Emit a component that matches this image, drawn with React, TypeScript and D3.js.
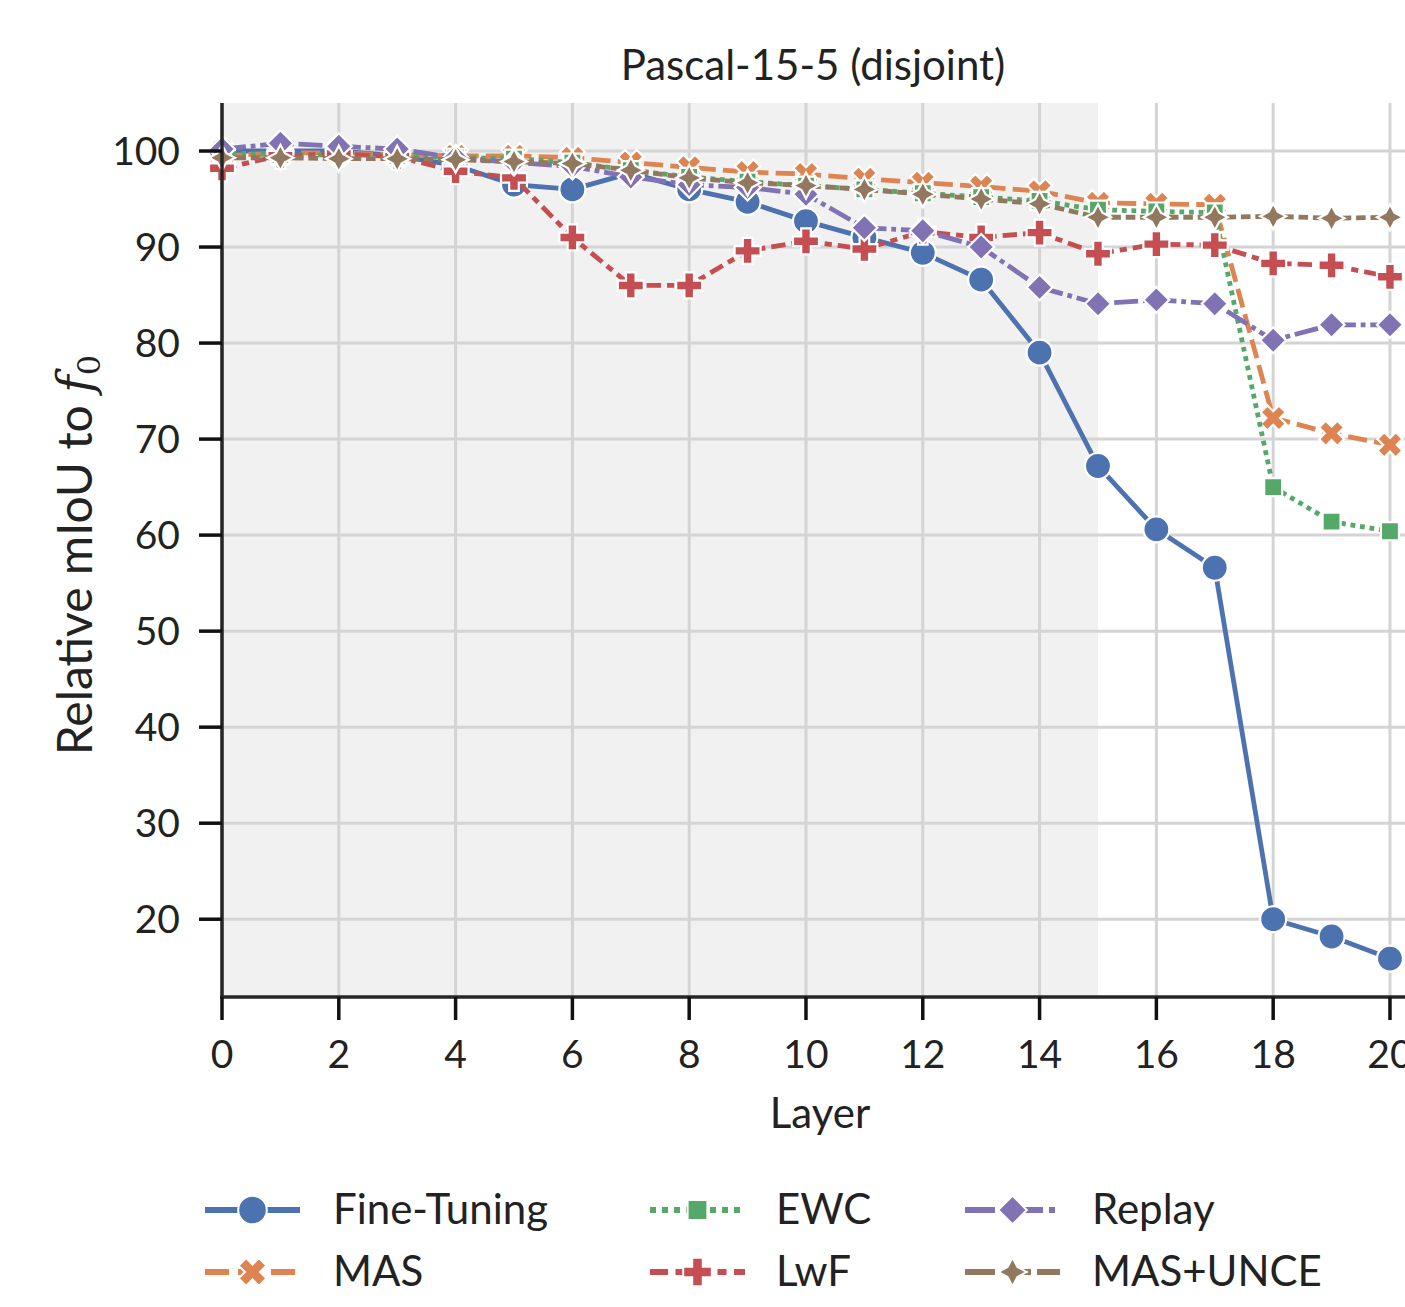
import React from "react";
import * as d3 from "d3";

const layers = d3.range(0, 21);
const xTicks = [0, 2, 4, 6, 8, 10, 12, 14, 16, 18, 20];
const yTicks = [20, 30, 40, 50, 60, 70, 80, 90, 100];

const fineTuning = [100, 100, 100, 99.5, 98.5, 96.5, 96.0, 97.7, 96.0, 94.7, 92.7, 91.0, 89.4, 86.6, 79.0, 67.2, 60.6, 56.6, 20.0, 18.2, 15.9];
const mas = [99.5, 99.8, 99.8, 99.6, 99.5, 99.5, 99.3, 98.8, 98.3, 97.8, 97.6, 97.1, 96.7, 96.3, 95.8, 94.6, 94.5, 94.4, 72.2, 70.6, 69.4];
const ewc = [99.8, 99.6, 99.6, 99.5, 99.3, 99.2, 98.8, 98.0, 97.3, 96.8, 96.4, 96.0, 95.6, 95.2, 94.8, 93.9, 93.7, 93.6, 65.0, 61.4, 60.4];
const lwf = [98.2, 99.5, 99.7, 99.4, 97.9, 97.2, 91.0, 86.0, 86.0, 89.6, 90.6, 89.8, 91.6, 91.0, 91.5, 89.3, 90.3, 90.2, 88.3, 88.1, 86.9];
const replay = [100.2, 100.8, 100.5, 100.2, 99.3, 98.8, 98.4, 97.3, 96.5, 96.2, 95.5, 92.0, 91.7, 90.0, 85.8, 84.1, 84.5, 84.1, 80.3, 81.9, 81.9];
const masUnce = [99.3, 99.3, 99.2, 99.2, 99.1, 98.9, 98.7, 98.0, 97.2, 96.7, 96.4, 96.0, 95.5, 95.0, 94.5, 93.1, 93.1, 93.1, 93.2, 93.0, 93.1];

type Marker = "circle" | "x" | "square" | "plus" | "diamond" | "star";
const LW = 4.8;
const LEG_LW = 6;
const series: { name: string; values: number[]; color: string; dash: number[]; marker: Marker }[] = [
  { name: "Fine-Tuning", values: fineTuning, color: "#4c72b0", dash: [], marker: "circle" },
  { name: "MAS", values: mas, color: "#dd8452", dash: [4, 1.5], marker: "x" },
  { name: "EWC", values: ewc, color: "#55a868", dash: [1, 1], marker: "square" },
  { name: "LwF", values: lwf, color: "#c44e52", dash: [3, 1.25, 1.5, 1.25], marker: "plus" },
  { name: "Replay", values: replay, color: "#8172b3", dash: [5, 1, 1, 1], marker: "diamond" },
  { name: "MAS+UNCE", values: masUnce, color: "#937860", dash: [5, 1, 2, 1, 2, 1], marker: "star" },
];

function markerPath(m: Marker, k = 1): string {
  const s = 13 * k;
  switch (m) {
    case "circle":
      return `M${s},0A${s},${s} 0 1,1 ${-s},0A${s},${s} 0 1,1 ${s},0Z`;
    case "square": {
      const h = 9 * k;
      return `M${-h},${-h}H${h}V${h}H${-h}Z`;
    }
    case "diamond": {
      const h = 13 * k;
      return `M0,${-h}L${h},0L0,${h}L${-h},0Z`;
    }
    case "plus": {
      const a = 13 * k, b = 4.8 * k;
      return `M${-b},${-a}H${b}V${-b}H${a}V${b}H${b}V${a}H${-b}V${b}H${-a}V${-b}H${-b}Z`;
    }
    case "x": {
      const a = 13 * k, b = 4.8 * k;
      const pts: [number, number][] = [[-b, -a], [b, -a], [b, -b], [a, -b], [a, b], [b, b], [b, a], [-b, a], [-b, b], [-a, b], [-a, -b], [-b, -b]];
      const r = Math.PI / 4;
      return "M" + pts.map(([x, y]) => `${(x * Math.cos(r) - y * Math.sin(r)).toFixed(2)},${(x * Math.sin(r) + y * Math.cos(r)).toFixed(2)}`).join("L") + "Z";
    }
    case "star": {
      const a = 13 * k, b = 4.5 * k;
      return `M0,${-a}L${b},${-b}L${a},0L${b},${b}L0,${a}L${-b},${b}L${-a},0L${-b},${-b}Z`;
    }
  }
}

const FONT = "Lato, 'DejaVu Sans', sans-serif";

export default function App() {
  const W = 1405, H = 1307;
  const left = 222, right = 1418, top = 103, bottom = 997;
  const x = d3.scaleLinear().domain([0, 20.48]).range([left, right]);
  const y = d3.scaleLinear().domain([11.9, 105]).range([bottom, top]);
  const line = d3.line<number>().x((_, i) => x(layers[i])).y((d) => y(d));

  const legendCols = [
    { hx: 205, tx: 333 },
    { hx: 650, tx: 776 },
    { hx: 965, tx: 1092 },
  ];
  const legendRows = [1210, 1272];
  const legendPos = series.map((_, i) => ({ col: Math.floor(i / 2), row: i % 2 }));

  return (
    <svg width={W} height={H} style={{ position: "absolute", left: 0, top: 0, background: "#fff" }} fontFamily={FONT}>
      <rect x={x(0)} y={top} width={x(15) - x(0)} height={bottom - top} fill="#f1f1f1" />
      {xTicks.map((t) => (
        <line key={"gx" + t} x1={x(t)} x2={x(t)} y1={top} y2={bottom} stroke="#d4d4d4" strokeWidth={3} />
      ))}
      {yTicks.map((t) => (
        <line key={"gy" + t} x1={left} x2={right} y1={y(t)} y2={y(t)} stroke="#d4d4d4" strokeWidth={3} />
      ))}
      <g>
        {series.map((s) => (
          <g key={s.name}>
            <path
              d={line(s.values) || ""}
              fill="none"
              stroke={s.color}
              strokeWidth={LW}
              strokeDasharray={s.dash.length ? s.dash.map((d) => d * LW).join(",") : undefined}
              strokeLinejoin="round"
            />
            {s.values.map((v, i) => (
              <path
                key={i}
                d={markerPath(s.marker)}
                transform={`translate(${x(layers[i])},${y(v)})`}
                fill={s.color}
                stroke="#fff"
                strokeWidth={2.2}
              />
            ))}
          </g>
        ))}
      </g>
      <line x1={left} x2={left} y1={top} y2={bottom + 1.75} stroke="#262626" strokeWidth={3.5} />
      <line x1={left - 1.75} x2={right} y1={bottom} y2={bottom} stroke="#262626" strokeWidth={3.5} />
      {xTicks.map((t) => (
        <g key={"tx" + t}>
          <line x1={x(t)} x2={x(t)} y1={bottom} y2={bottom + 23} stroke="#111" strokeWidth={3.5} />
          <text x={x(t)} y={bottom + 71} textAnchor="middle" fontSize={39} fill="#222">
            {t}
          </text>
        </g>
      ))}
      {yTicks.map((t) => (
        <g key={"ty" + t}>
          <line x1={left - 23} x2={left} y1={y(t)} y2={y(t)} stroke="#111" strokeWidth={3.5} />
          <text x={left - 42} y={y(t) + 14} textAnchor="end" fontSize={39} fill="#222">
            {t}
          </text>
        </g>
      ))}
      <text x={813} y={80} textAnchor="middle" fontSize={42} fill="#222">
        Pascal-15-5 (disjoint)
      </text>
      <text x={820} y={1128} textAnchor="middle" fontSize={42} fill="#222">
        Layer
      </text>
      <text transform="translate(92,555) rotate(-90)" textAnchor="middle" fontSize={48} fill="#222">
        Relative mIoU to{" "}
        <tspan fontFamily="'DejaVu Serif', 'Liberation Serif', serif" fontStyle="italic">f</tspan>
        <tspan fontSize={32} dy={8} fontFamily="'DejaVu Serif', 'Liberation Serif', serif">0</tspan>
      </text>
      {series.map((s, i) => {
        const { col, row } = legendPos[i];
        const c = legendCols[col];
        const ly = legendRows[row];
        return (
          <g key={"lg" + s.name}>
            <line
              x1={c.hx}
              x2={c.hx + 95}
              y1={ly}
              y2={ly}
              stroke={s.color}
              strokeWidth={LEG_LW}
              strokeDasharray={s.dash.length ? s.dash.map((d) => d * LEG_LW).join(",") : undefined}
            />
            <path d={markerPath(s.marker, 1.1)} transform={`translate(${c.hx + 47.5},${ly})`} fill={s.color} stroke="#fff" strokeWidth={2} />
            <text x={c.tx} y={ly + 14} fontSize={42} fill="#222">
              {s.name}
            </text>
          </g>
        );
      })}
    </svg>
  );
}
